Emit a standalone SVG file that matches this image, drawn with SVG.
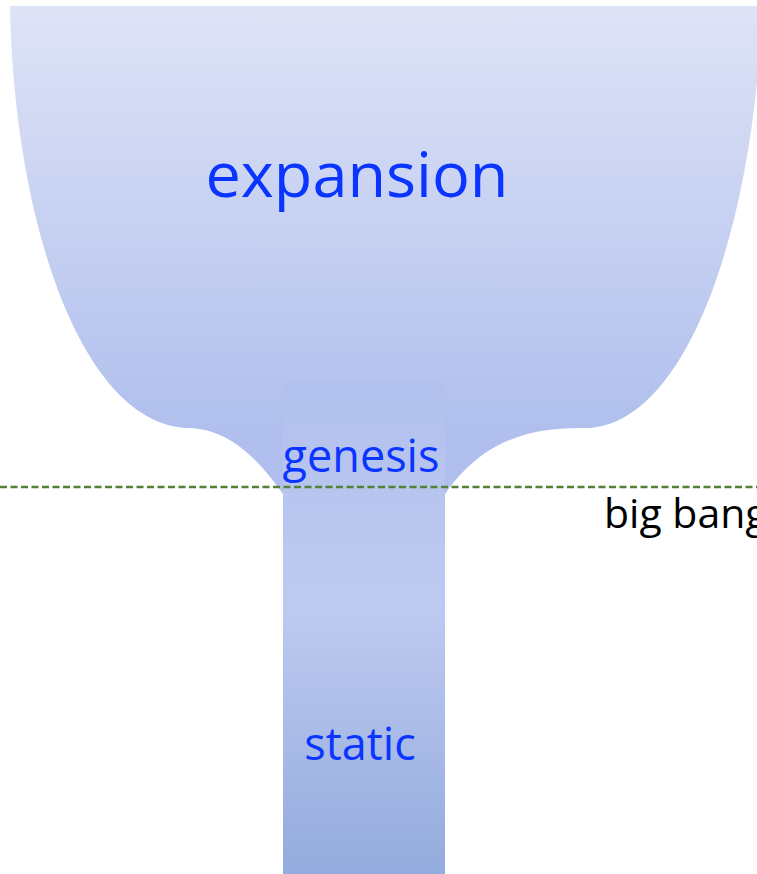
<svg xmlns="http://www.w3.org/2000/svg" width="757" height="874" viewBox="0 0 757 874">
<style>
.lbl{font-family:"Open Sans","Liberation Sans",sans-serif;fill:#0a34ff}
.blk{font-family:"Open Sans","Liberation Sans",sans-serif;fill:#000}
</style>
<defs>
<linearGradient id="gb" x1="0" y1="6" x2="0" y2="430" gradientUnits="userSpaceOnUse">
<stop offset="0" stop-color="#dee3f6"/>
<stop offset="1" stop-color="#b0bfed"/>
</linearGradient>
<linearGradient id="gc" x1="0" y1="383" x2="0" y2="874" gradientUnits="userSpaceOnUse">
<stop offset="0" stop-color="#b1c0ed"/>
<stop offset="0.45" stop-color="#bfcaf0"/>
<stop offset="1" stop-color="#93abdd"/>
</linearGradient>
</defs>
<g id="bowl">
<path d="M10,6 L762,6 C755,220 690,420 590,428 C545,428 490,430 445,494 L283,494 C245,440 215,428 185,428 C80,420 14,220 10,6 Z" fill="url(#gb)"/>
</g>
<g id="column">
<rect x="283" y="383" width="162" height="491" fill="url(#gc)"/>
</g>
<g id="connectors">
<line x1="0" y1="487" x2="757" y2="487" stroke="#538135" stroke-width="2.5" stroke-dasharray="7,3.5"/>
</g>
<g id="labels">
<text class="lbl" x="357" y="197" font-size="63" text-anchor="middle">expansion</text>
<text class="lbl" x="361" y="472" font-size="45" text-anchor="middle">genesis</text>
<text class="lbl" x="360" y="760" font-size="45" text-anchor="middle">static</text>
<text class="blk" x="604" y="528" font-size="41">big bang</text>
</g>
</svg>
